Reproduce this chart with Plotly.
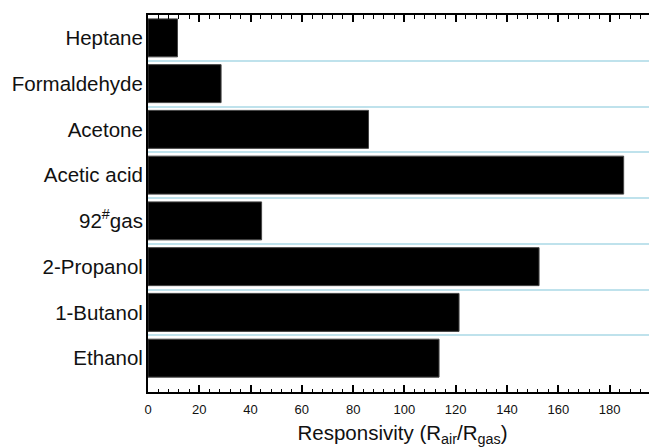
import plotly.graph_objects as go

categories = ["Heptane", "Formaldehyde", "Acetone", "Acetic acid",
              "92<sup>#</sup>gas", "2-Propanol", "1-Butanol", "Ethanol"]
responsivity = [11.5, 28.5, 86, 185.5, 44.3, 152.5, 121.3, 113.5]

x_tickvals = [0, 20, 40, 60, 80, 100, 120, 140, 160, 180]
x_ticktext = [str(v) for v in x_tickvals]
x_range = [0, 198.5]

fig = go.Figure()
fig.add_trace(go.Bar(
    y=categories, x=responsivity, orientation="h",
    marker=dict(color="black", line=dict(color="#444444", width=1)),
    width=0.83, hoverinfo="skip",
))
# invisible companion trace to drive the top tick axis
fig.add_trace(go.Bar(
    y=categories, x=responsivity, orientation="h",
    xaxis="x2", yaxis="y",
    marker=dict(color="rgba(0,0,0,0)", line=dict(width=0)),
    width=0.83, hoverinfo="skip", showlegend=False,
))

# page body has an 8px default margin; size the figure to fill the rest
fig.update_layout(
    width=649, height=440,
    margin=dict(l=140, r=0, t=7, b=56),
    paper_bgcolor="white", plot_bgcolor="white",
    font=dict(family="Liberation Sans, Arial, sans-serif", color="#111111"),
    showlegend=False,
    barmode="overlay",
    xaxis=dict(
        range=x_range,
        tickvals=x_tickvals, ticktext=x_ticktext,
        ticks="inside", ticklen=7, tickwidth=1.5, tickcolor="black",
        minor=dict(dtick=4, ticks="inside", ticklen=3.5, tickwidth=1.2,
                   tickcolor="black", showgrid=False),
        showline=True, linecolor="black", linewidth=2,
        showgrid=False, zeroline=False, automargin=False,
        tickfont=dict(size=13),
        ticklabelstandoff=4,
        title=dict(text="Responsivity (R<sub>air</sub>/R<sub>gas</sub>)",
                   font=dict(size=20.5), standoff=10),
    ),
    xaxis2=dict(
        overlaying="x", side="top", matches="x", range=x_range,
        tickvals=x_tickvals, showticklabels=False,
        ticks="inside", ticklen=7, tickwidth=1.5, tickcolor="black",
        minor=dict(dtick=4, ticks="inside", ticklen=3.5, tickwidth=1.2,
                   tickcolor="black", showgrid=False),
        showline=True, linecolor="black", linewidth=2,
        showgrid=False, zeroline=False, automargin=False,
    ),
    yaxis=dict(
        type="category",
        categoryorder="array", categoryarray=categories,
        range=[7.74, -0.5],
        tickson="boundaries",
        ticks="", ticklen=0, showline=True, linecolor="black", linewidth=2,
        showgrid=True, gridcolor="#bfe2ec", gridwidth=1.6,
        zeroline=False, automargin=False,
        tickfont=dict(size=20.5),
        ticklabelstandoff=-1,
    ),
)

fig.write_html("out.html")
